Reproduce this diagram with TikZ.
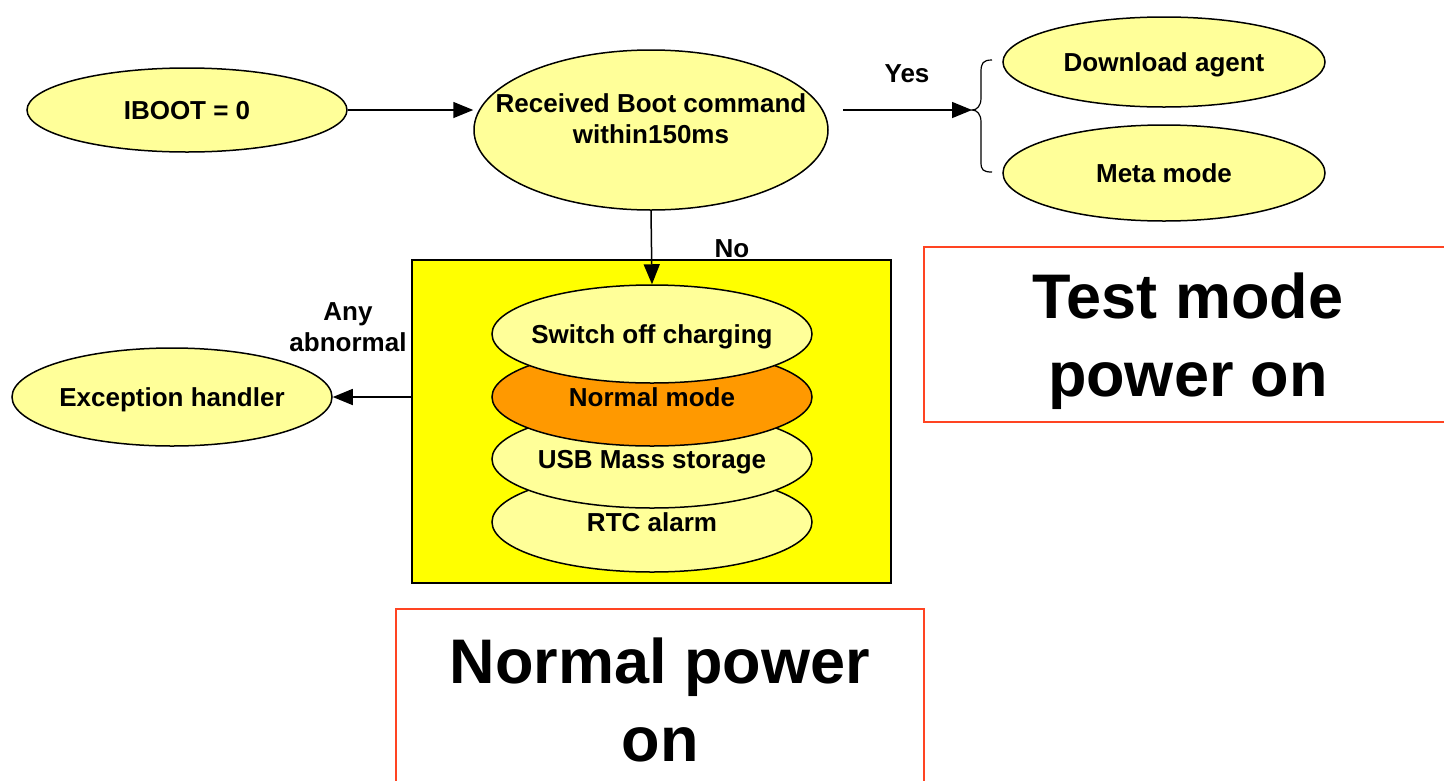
\documentclass[tikz,border=0pt]{standalone}
\usepackage{fontspec}
\setmainfont{Liberation Sans}
\usetikzlibrary{shapes.geometric,arrows.meta}
\definecolor{lightyel}{HTML}{FFFF99}
\definecolor{boxyel}{HTML}{FFFF00}
\definecolor{orangefill}{HTML}{FF9900}
\definecolor{redline}{HTML}{FF4422}
\newcommand{\zw}[1]{\makebox[0pt][c]{\raisebox{-9.5pt}[0pt][0pt]{#1}}}
\begin{document}
\begin{tikzpicture}[x=1pt,y=-1pt,
  ell/.style={ellipse,draw=black,line width=1.5pt,fill=lightyel,inner sep=0pt,
    font=\fontsize{26}{31}\selectfont\bfseries,align=center},
  lbl/.style={font=\fontsize{26}{31}\selectfont\bfseries,align=center,inner sep=0pt},
  big/.style={font=\fontsize{63}{78}\selectfont\bfseries,align=center,inner sep=0pt},
  arr/.style={line width=1.5pt,-{Triangle[length=20pt,width=16pt]}},
  titlebox/.style={draw=redline,line width=1.5pt,fill=white}]
\useasboundingbox (0,0) rectangle (1444,780);
\fill[white] (0,0) rectangle (1444,780);

% top row
\node[ell,minimum width=320pt,minimum height=84pt] (ib) at (187,110) {\zw{IBOOT = 0}};
\node[ell,minimum width=354pt,minimum height=160pt] (rb) at (651,130) {};
\node[lbl] (rbt) at (651,119) {Received Boot command\\within150ms};
\node[ell,minimum width=322pt,minimum height=90pt] (dl) at (1164,62) {\zw{Download agent}};
\node[ell,minimum width=322pt,minimum height=96pt] (mm) at (1164,173) {\zw{Meta mode}};

% brace
\coordinate (bt) at (972,110);
\draw[line width=1.2pt] (992,60) .. controls (983,60) and (981,63) .. (981,72) -- (981,98)
  .. controls (981,106) and (977,110) .. (bt)
  .. controls (977,110) and (981,114) .. (981,122) -- (981,162)
  .. controls (981,170) and (983,172) .. (992,172);

% yellow box
\node[draw=black,line width=1.5pt,fill=boxyel,minimum width=479pt,minimum height=323pt,inner sep=0pt] (box) at (651.5,421.5) {};
\node[ell,minimum width=320pt,minimum height=100pt] (rtc) at (652,522) {\zw{RTC alarm}};
\node[ell,minimum width=320pt,minimum height=98pt] (usb) at (652,459) {\zw{USB Mass storage}};
\node[ell,fill=orangefill,minimum width=320pt,minimum height=98pt] (nm) at (652,397) {\zw{Normal mode}};
\node[ell,minimum width=320pt,minimum height=98pt] (sw) at (652,334) {\zw{Switch off charging}};

\node[ell,minimum width=320pt,minimum height=98pt] (ex) at (172,397) {\zw{Exception handler}};

% connectors
\draw[arr] (ib.east) -- (ib.east -| rb.west);
\coordinate (ys) at (843,110);
\draw[arr] (ys) -- (bt);
\node[lbl] (yes) at (907,74) {Yes};
\draw[arr] (rb.south) -- (sw.north);
\node[lbl] (no) at (732,249) {No};
\draw[arr] (box.west |- ex.east) -- (ex.east);
\node[lbl] (ab) at (348,327) {Any\\abnormal};

% title boxes
\draw[titlebox] (924,247) rectangle (1460,422);
\node[big] (tm) at (1188,341) {Test mode\\power on};
\draw[titlebox] (396,800) -- (396,609) -- (924,609) -- (924,800);
\node[big] (np) at (660,700) {Normal power\\on};
\end{tikzpicture}
\end{document}
